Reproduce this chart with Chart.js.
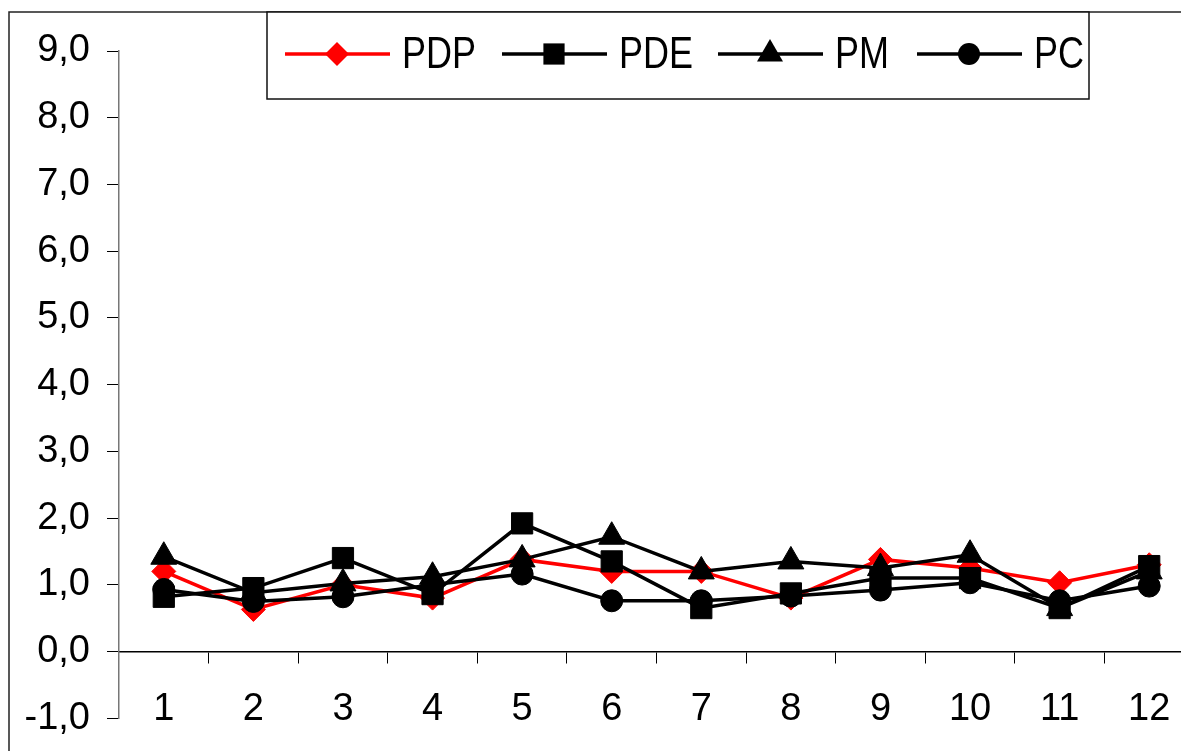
<!DOCTYPE html>
<html>
<head>
<meta charset="utf-8">
<script src="https://cdn.jsdelivr.net/npm/chart.js@4/dist/chart.umd.min.js"></script>
<style>
  html, body { margin: 0; padding: 0; background: #fff; overflow: hidden; }
  #quadro { width: 1181px; height: 751px; overflow: hidden; }
  canvas { display: block; }
</style>
</head>
<body>
<div id="quadro"><canvas id="grafico" width="1210" height="758"></canvas></div>
<script>
const categorias = ["1", "2", "3", "4", "5", "6", "7", "8", "9", "10", "11", "12"];
const serieNomes = ["PDP", "PDE", "PM", "PC"];
const valoresPDP = [1.2, 0.63, 1.0, 0.8, 1.38, 1.2, 1.2, 0.8, 1.38, 1.25, 1.03, 1.3];
const valoresPDE = [0.82, 0.95, 1.4, 0.86, 1.92, 1.35, 0.65, 0.87, 1.1, 1.1, 0.65, 1.28];
const valoresPM = [1.42, 0.88, 1.02, 1.12, 1.38, 1.72, 1.2, 1.35, 1.25, 1.45, 0.65, 1.2];
const valoresPC = [0.93, 0.75, 0.82, 1.0, 1.16, 0.76, 0.76, 0.83, 0.92, 1.03, 0.76, 0.98];
const eixoY = { min: -1, max: 9, passo: 1 };

function serie(nome, dados, cor, estilo, raio, ordem) {
  return {
    label: nome,
    data: dados,
    borderColor: cor,
    backgroundColor: cor,
    borderWidth: 3.5,
    pointStyle: estilo,
    pointRadius: raio,
    pointBackgroundColor: cor,
    pointBorderColor: cor,
    pointBorderWidth: 1,
    tension: 0,
    order: ordem,
  };
}

// desenha o marcador da legenda
function marcador(ctx, estilo, x, y, r) {
  ctx.beginPath();
  if (estilo === "rectRot") {
    ctx.moveTo(x, y - r);
    ctx.lineTo(x + r, y);
    ctx.lineTo(x, y + r);
    ctx.lineTo(x - r, y);
  } else if (estilo === "rect") {
    const s = r * Math.SQRT1_2;
    ctx.rect(x - s, y - s, 2 * s, 2 * s);
  } else if (estilo === "triangle") {
    ctx.moveTo(x, y - r);
    ctx.lineTo(x + Math.sin(Math.PI * 2 / 3) * r, y + r / 2);
    ctx.lineTo(x - Math.sin(Math.PI * 2 / 3) * r, y + r / 2);
  } else {
    ctx.arc(x, y, r, 0, Math.PI * 2);
  }
  ctx.closePath();
  ctx.fill();
}

const molduraLegenda = {
  id: "molduraLegenda",
  afterDraw(chart) {
    const ctx = chart.ctx;
    ctx.save();
    // moldura externa
    ctx.strokeStyle = "#222";
    ctx.lineWidth = 1.5;
    ctx.beginPath();
    ctx.moveTo(9, 758);
    ctx.lineTo(9, 12);
    ctx.lineTo(1210, 12);
    ctx.stroke();
    // caixa da legenda
    ctx.fillStyle = "#fff";
    ctx.fillRect(267, 12, 822, 87);
    ctx.strokeStyle = "#111";
    ctx.strokeRect(267, 12, 822, 87);

    const inicios = [285, 502, 718, 917];
    const yL = 54;
    chart.data.datasets.forEach((ds, i) => {
      const x0 = inicios[i];
      ctx.strokeStyle = ds.borderColor;
      ctx.fillStyle = ds.borderColor;
      ctx.lineWidth = 3.5;
      ctx.beginPath();
      ctx.moveTo(x0, yL);
      ctx.lineTo(x0 + 105, yL);
      ctx.stroke();
      marcador(ctx, ds.pointStyle, x0 + 52, yL, ds.pointRadius);
      ctx.save();
      ctx.translate(x0 + 117, yL);
      ctx.scale(0.8, 1);
      ctx.fillStyle = "#000";
      ctx.font = "45px 'Liberation Sans', Arial, sans-serif";
      ctx.textBaseline = "middle";
      ctx.fillText(ds.label, 0, 2);
      ctx.restore();
    });
    ctx.restore();
  },
};

const grafico = new Chart(document.getElementById("grafico"), {
  type: "line",
  data: {
    labels: categorias,
    datasets: [
      serie(serieNomes[0], valoresPDP, "#ff0000", "rectRot", 12, 4),
      serie(serieNomes[1], valoresPDE, "#000000", "rect", 15, 3),
      serie(serieNomes[2], valoresPM, "#000000", "triangle", 15, 2),
      serie(serieNomes[3], valoresPC, "#000000", "circle", 11, 1),
    ],
  },
  options: {
    responsive: false,
    devicePixelRatio: 1,
    animation: false,
    layout: { padding: { top: 51, bottom: 18, left: 0, right: 8 } },
    plugins: { legend: { display: false }, tooltip: { enabled: false } },
    scales: {
      x: {
        type: "category",
        position: { y: 0 },
        offset: true,
        grid: {
          display: true,
          offset: true,
          drawOnChartArea: false,
          drawTicks: true,
          tickLength: 11,
          color: "#000",
          lineWidth: 1,
        },
        border: { display: true, color: "#000", width: 1.5 },
        ticks: {
          color: "#000",
          padding: 24,
          maxRotation: 0,
          autoSkip: false,
          font: { family: "'Liberation Sans', Arial, sans-serif", size: 38 },
        },
      },
      y: {
        min: eixoY.min,
        max: eixoY.max,
        afterFit(escala) {
          escala.width = 119;
        },
        grid: {
          drawOnChartArea: false,
          drawTicks: true,
          tickLength: 12,
          color: "#000",
          lineWidth: 1,
        },
        border: { display: true, color: "#777", width: 1.5 },
        ticks: {
          stepSize: eixoY.passo,
          color: "#000",
          padding: 17,
          font: { family: "'Liberation Sans', Arial, sans-serif", size: 38 },
          callback: (v) => v.toFixed(1).replace(".", ","),
        },
      },
    },
  },
  plugins: [molduraLegenda],
});
</script>
</body>
</html>
